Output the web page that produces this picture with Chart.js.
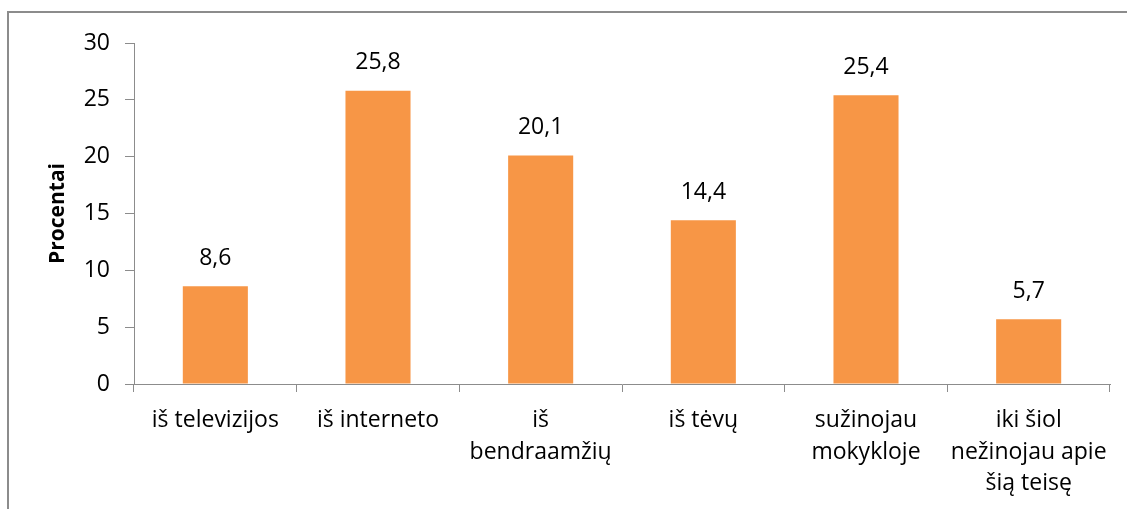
<!DOCTYPE html>
<html>
<head>
<meta charset="utf-8">
<script src="https://cdn.jsdelivr.net/npm/chart.js@4"></script>
<style>
  html, body { margin: 0; padding: 0; background: #fff; }
  #wrap { position: relative; width: 1127px; height: 509px; overflow: hidden; }
  #frame { position: absolute; left: 7px; top: 11px; width: 1130px; height: 520px; border: 2px solid #8c8c8c; box-sizing: border-box; }
  canvas { position: absolute; left: 0; top: 0; }
</style>
</head>
<body>
<div id="wrap">
  <div id="frame"></div>
  <canvas id="c" width="1127" height="509"></canvas>
</div>
<script>
const categories = [
  'iš televizijos',
  'iš interneto',
  ['iš', 'bendraamžių'],
  'iš tėvų',
  ['sužinojau', 'mokykloje'],
  ['iki šiol', 'nežinojau apie', 'šią teisę']
];
const values = [8.6, 25.8, 20.1, 14.4, 25.4, 5.7];
const yTicks = [0, 5, 10, 15, 20, 25, 30];
const axisTitle = 'Procentai';

const FONT = "'Open Sans', 'Liberation Sans', sans-serif";

const labelPlugin = {
  id: 'barLabels',
  afterDatasetsDraw(chart) {
    const ctx = chart.ctx;
    const meta = chart.getDatasetMeta(0);
    ctx.save();
    ctx.font = '23px ' + FONT;
    ctx.fillStyle = '#000';
    ctx.textAlign = 'center';
    ctx.textBaseline = 'middle';
    meta.data.forEach((bar, i) => {
      ctx.fillText(values[i].toFixed(1).replace('.', ','), bar.x, bar.y - 28);
    });
    ctx.restore();
  }
};

const titlePlugin = {
  id: 'yTitle',
  afterDraw(chart) {
    const ctx = chart.ctx;
    const a = chart.chartArea;
    ctx.save();
    ctx.translate(58, (a.top + a.bottom) / 2);
    ctx.rotate(-Math.PI / 2);
    ctx.font = 'bold 21px ' + FONT;
    ctx.fillStyle = '#000';
    ctx.textAlign = 'center';
    ctx.textBaseline = 'middle';
    ctx.fillText(axisTitle, 0, 0);
    ctx.restore();
  }
};

new Chart(document.getElementById('c'), {
  type: 'bar',
  data: {
    labels: categories,
    datasets: [{
      data: values,
      backgroundColor: '#F79646',
      barPercentage: 0.4,
      categoryPercentage: 1.0
    }]
  },
  options: {
    responsive: false,
    animation: false,
    layout: { padding: { left: 0, right: 17, top: 43, bottom: 0 } },
    plugins: { legend: { display: false }, tooltip: { enabled: false } },
    scales: {
      x: {
        offset: true,
        grid: { offset: true, drawOnChartArea: false, drawTicks: true, tickLength: 8, color: '#8c8c8c', tickColor: '#8c8c8c' },
        border: { color: '#8c8c8c', width: 1 },
        ticks: { color: '#000', font: { family: FONT, size: 23, lineHeight: 1.39 }, padding: 12, maxRotation: 0, autoSkip: false },
        afterFit(scale) { scale.height = 125; }
      },
      y: {
        min: 0, max: 30,
        afterBuildTicks(scale) { scale.ticks = yTicks.map(v => ({ value: v })); },
        grid: { drawOnChartArea: false, drawTicks: true, tickLength: 9, color: '#8c8c8c', tickColor: '#8c8c8c' },
        border: { color: '#8c8c8c', width: 1 },
        ticks: { color: '#000', font: { family: FONT, size: 23 }, padding: 15 },
        afterFit(scale) { scale.width = 134; }
      }
    }
  },
  plugins: [labelPlugin, titlePlugin]
});
</script>
</body>
</html>
